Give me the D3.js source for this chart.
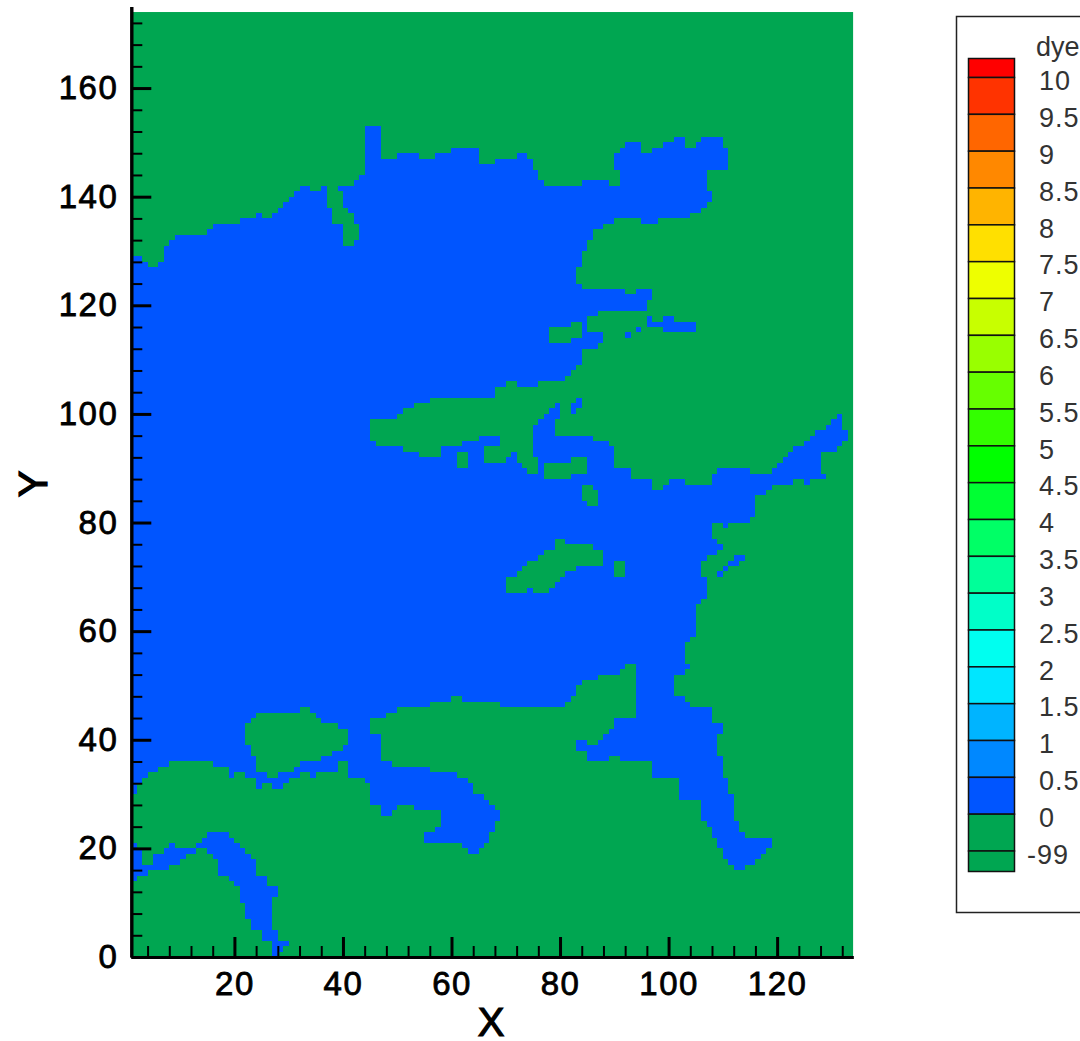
<!DOCTYPE html>
<html>
<head>
<meta charset="utf-8">
<script src="https://cdn.jsdelivr.net/npm/d3@7/dist/d3.min.js"></script>
<style>
    html, body { margin: 0; background: #fff; }
    svg { display: block; }
    text { font-family: "Liberation Sans", Arial, sans-serif; }
</style>
</head>
<body>
<svg id="chart"></svg>
<script>
const xMajor = [20, 40, 60, 80, 100, 120];
const xMinor = [4, 8, 12, 16, 24, 28, 32, 36, 44, 48, 52, 56, 64, 68, 72, 76, 84, 88, 92, 96, 104, 108, 112, 116, 124, 128, 132];
const yMajor = [0, 20, 40, 60, 80, 100, 120, 140, 160];
const yMinor = [4, 8, 12, 16, 24, 28, 32, 36, 44, 48, 52, 56, 64, 68, 72, 76, 84, 88, 92, 96, 104, 108, 112, 116, 124, 128, 132, 136, 144, 148, 152, 156, 164, 168, 172];

const legendLabels = ["10", "9.5", "9", "8.5", "8", "7.5", "7", "6.5", "6", "5.5", "5", "4.5", "4", "3.5", "3", "2.5", "2", "1.5", "1", "0.5", "0", "-99"];
const legendColors = ["#ff0000", "#ff3300", "#ff6600", "#ff8800", "#ffb400", "#ffe000", "#eeff00", "#c8ff00", "#99ff00", "#66ff00", "#33ff00", "#00ff00", "#00ff33", "#00ff66", "#00ff99", "#00ffc8", "#00fff0", "#00e6ff", "#00b4ff", "#0088ff", "#0055ff", "#00a651", "#00a651"];

// dye >= 0 cells: [y, x0, x1, x2, x3, ...], each pair a run along that row. the rest is -99
const dyeRows = [
    [0, 27, 28], [1, 27, 29], [2, 27, 30], [3, 25, 28], [4, 25, 28], [5, 23, 27], [6, 23, 27], [7, 22, 27],
    [8, 22, 27], [9, 22, 27], [10, 21, 27], [11, 21, 28], [12, 21, 28], [13, 20, 26],
    [14, 1, 2, 19, 26], [15, 1, 4, 17, 24], [16, 1, 8, 17, 24, 112, 114],
    [17, 1, 3, 5, 10, 17, 24, 111, 116], [18, 1, 3, 5, 11, 16, 23, 110, 117],
    [19, 1, 3, 7, 13, 15, 22, 63, 65, 110, 118], [20, 1, 2, 8, 9, 13, 21, 62, 66, 109, 119],
    [21, 14, 20, 55, 67, 109, 119], [22, 15, 19, 55, 67, 108, 114], [23, 57, 68, 108, 113], [24, 58, 68, 107, 113],
    [25, 58, 69, 106, 112], [26, 47, 49, 58, 69, 106, 112], [27, 47, 50, 53, 68, 106, 112], [28, 45, 67, 106, 112],
    [29, 45, 66, 102, 112], [30, 1, 2, 45, 64, 102, 111], [31, 1, 2, 24, 25, 27, 29, 45, 64, 102, 111],
    [32, 1, 3, 24, 30, 44, 63, 102, 111], [33, 1, 4, 19, 20, 22, 26, 28, 32, 34, 35, 41, 61, 97, 110],
    [34, 1, 6, 19, 24, 31, 39, 41, 56, 97, 110], [35, 1, 8, 16, 24, 32, 39, 41, 49, 97, 110],
    [36, 1, 24, 36, 47, 85, 89, 91, 110], [37, 1, 23, 38, 47, 85, 109], [38, 1, 23, 40, 47, 83, 109],
    [39, 1, 22, 41, 47, 83, 85, 87, 109], [40, 1, 22, 41, 47, 88, 109], [41, 1, 22, 41, 45, 89, 110],
    [42, 1, 22, 39, 45, 90, 110], [43, 1, 23, 36, 45, 90, 108], [44, 1, 24, 35, 48, 94, 108],
    [45, 1, 32, 34, 50, 94, 108], [46, 1, 56, 69, 81, 94, 104], [47, 1, 60, 62, 82, 94, 103],
    [48, 1, 83, 94, 101], [49, 1, 83, 94, 101], [50, 1, 84, 94, 101], [51, 1, 87, 94, 101],
    [52, 1, 91, 94, 103], [53, 1, 92, 94, 104], [54, 1, 103], [55, 1, 103], [56, 1, 103], [57, 1, 103], [58, 1, 104],
    [59, 1, 105], [60, 1, 105], [61, 1, 105], [62, 1, 105], [63, 1, 105], [64, 1, 105], [65, 1, 106], [66, 1, 107],
    [67, 1, 70, 74, 75, 78, 107], [68, 1, 70, 79, 107], [69, 1, 70, 80, 107],
    [70, 1, 72, 81, 90, 92, 106, 109, 110], [71, 1, 73, 83, 90, 92, 106, 110, 111],
    [72, 1, 74, 88, 90, 92, 106, 111, 113], [73, 1, 76, 88, 107, 112, 114], [74, 1, 77, 88, 109],
    [75, 1, 79, 86, 110], [76, 1, 79, 81, 109], [77, 1, 108], [78, 1, 108], [79, 1, 108, 110, 111], [80, 1, 115],
    [81, 1, 116], [82, 1, 116], [83, 1, 85, 87, 116], [84, 1, 84, 87, 116], [85, 1, 84, 87, 118],
    [86, 1, 84, 86, 97, 99, 119], [87, 1, 97, 100, 103, 108, 123, 125, 126], [88, 1, 77, 82, 93, 108, 129],
    [89, 1, 74, 76, 77, 85, 93, 109, 115, 119, 128], [90, 1, 61, 63, 73, 76, 77, 85, 90, 120, 128],
    [91, 1, 61, 63, 66, 70, 72, 76, 82, 85, 90, 121, 128], [92, 1, 54, 58, 61, 63, 66, 71, 72, 75, 90, 122, 128],
    [93, 1, 51, 58, 66, 75, 90, 123, 131], [94, 1, 46, 62, 69, 75, 89, 125, 132], [95, 1, 45, 65, 69, 75, 86, 126, 133],
    [96, 1, 45, 75, 79, 127, 133], [97, 1, 45, 75, 79, 129, 132], [98, 1, 45, 76, 79, 130, 132],
    [99, 1, 50, 77, 80, 131, 132], [100, 1, 51, 78, 80, 82, 83], [101, 1, 53, 79, 80, 82, 84], [102, 1, 56, 83, 84],
    [103, 1, 68], [104, 1, 68], [105, 1, 70, 72, 76], [106, 1, 81], [107, 1, 82], [108, 1, 83],
    [109, 1, 84], [110, 1, 84], [111, 1, 84], [112, 1, 87], [113, 1, 78, 82, 88], [114, 1, 78, 84, 88, 92, 93],
    [115, 1, 78, 84, 85, 94, 95, 99, 105], [116, 1, 82, 84, 85, 96, 105], [117, 1, 85, 96, 97, 99, 101], [118, 1, 87],
    [119, 1, 96], [120, 1, 96], [121, 1, 97], [122, 1, 92, 94, 97], [123, 1, 84], [124, 1, 83], [125, 1, 83], [126, 1, 83],
    [127, 1, 4, 6, 84], [128, 1, 3, 7, 84], [129, 7, 84], [130, 7, 85], [131, 8, 40, 42, 85], [132, 9, 40, 43, 86],
    [133, 15, 40, 43, 86], [134, 16, 40, 43, 88], [135, 21, 38, 42, 90, 95, 98], [136, 24, 25, 27, 38, 42, 104],
    [137, 28, 38, 41, 106], [138, 29, 37, 40, 107], [139, 30, 37, 40, 108], [140, 31, 37, 40, 108],
    [141, 32, 34, 36, 37, 39, 107], [142, 42, 77, 84, 89, 91, 107], [143, 43, 76, 91, 107], [144, 44, 76, 91, 107],
    [145, 44, 75, 90, 111], [146, 44, 65, 68, 75, 90, 111], [147, 44, 47, 50, 54, 57, 65, 72, 74, 90, 111],
    [148, 44, 47, 60, 65, 91, 95, 97, 111], [149, 44, 47, 92, 95, 99, 103, 105, 110],
    [150, 44, 47, 101, 103, 106, 110], [151, 44, 47], [152, 44, 47]
];

const green = "#00a651";
const blue = "#0055ff";

const width = 1080, height = 1041;

const x = d3.scaleLinear().domain([1, 134]).range([131.3, 853.1]);
const y = d3.scaleLinear().domain([0, 175]).range([957, 6.6]);

const svg = d3.select("#chart").attr("width", width).attr("height", height);

svg.append("rect")
    .attr("x", x(1))
    .attr("y", y(174))
    .attr("width", x(134) - x(1))
    .attr("height", y(0) - y(174))
    .attr("fill", green);

// flatten rows to runs
const runs = [];
dyeRows.forEach(row => {
    for (let i = 1; i < row.length; i += 2) {
        runs.push({ y: row[0], x0: row[i], x1: row[i + 1] });
    }
});

svg.append("g")
    .attr("shape-rendering", "crispEdges")
    .selectAll("rect")
    .data(runs)
    .enter().append("rect")
    .attr("x", d => x(d.x0))
    .attr("y", d => y(d.y + 1))
    .attr("width", d => x(d.x1) - x(d.x0))
    .attr("height", d => y(d.y) - y(d.y + 1))
    .attr("fill", blue);

// axes
const xAxisMinor = svg.append("g").attr("transform", `translate(0,${y(0)})`)
    .call(d3.axisBottom(x).tickValues(xMinor).tickSizeInner(-11).tickSizeOuter(0).tickFormat(""));
const yAxisMinor = svg.append("g").attr("transform", `translate(${x(1)},0)`)
    .call(d3.axisLeft(y).tickValues(yMinor).tickSizeInner(-11).tickSizeOuter(0).tickFormat(""));
xAxisMinor.selectAll("line").attr("stroke-width", 2);
yAxisMinor.selectAll("line").attr("stroke-width", 2);

const xAxis = svg.append("g").attr("transform", `translate(0,${y(0)})`)
    .call(d3.axisBottom(x).tickValues(xMajor).tickSizeInner(-20).tickSizeOuter(0).tickPadding(15));
const yAxis = svg.append("g").attr("transform", `translate(${x(1)},0)`)
    .call(d3.axisLeft(y).tickValues(yMajor).tickSizeInner(-20).tickSizeOuter(0).tickPadding(13));

svg.selectAll("g .domain").attr("stroke-width", 3).attr("stroke", "#000");
xAxis.selectAll("line").attr("stroke-width", 3);
yAxis.selectAll("line").attr("stroke-width", 3);
[xAxis, yAxis].forEach(a => a.selectAll("text")
    .attr("fill", "#000")
    .attr("stroke", "#000")
    .attr("stroke-width", 0.8)
    .style("font-family", '"Liberation Sans", Arial, sans-serif')
    .style("font-size", "33px")
    .style("letter-spacing", "1.5px"));

svg.append("text")
    .attr("x", 491)
    .attr("y", 1036)
    .attr("text-anchor", "middle")
    .attr("stroke", "#000")
    .attr("stroke-width", 1.2)
    .style("font-size", "40px")
    .text("X");

svg.append("text")
    .attr("transform", "translate(47,484) rotate(-90)")
    .attr("text-anchor", "middle")
    .attr("stroke", "#000")
    .attr("stroke-width", 1.2)
    .style("font-size", "40px")
    .text("Y");

// legend
svg.append("rect")
    .attr("x", 956.5)
    .attr("y", 16.5)
    .attr("width", 140)
    .attr("height", 896)
    .attr("fill", "#fff")
    .attr("stroke", "#222")
    .attr("stroke-width", 1.5);

svg.append("text")
    .attr("x", 1036)
    .attr("y", 56)
    .attr("fill", "#333")
    .style("font-size", "27px")
    .text("dye");

const legendY = d3.scaleLinear().domain([0, 21]).range([77.5, 851]);

const legendTop = 58.5, legendBottom = 871.5;
svg.append("g")
    .selectAll("rect")
    .data(legendColors)
    .enter().append("rect")
    .attr("x", 968.5)
    .attr("y", (d, i) => i === 0 ? legendTop : legendY(i - 1))
    .attr("width", 46)
    .attr("height", (d, i) => i === 0 ? legendY(0) - legendTop : i === 22 ? legendBottom - legendY(21) : legendY(i) - legendY(i - 1))
    .attr("fill", d => d)
    .attr("stroke", "#111")
    .attr("stroke-width", 1.5);

svg.append("g")
    .selectAll("text")
    .data(legendLabels)
    .enter().append("text")
    .attr("x", d => d === "-99" ? 1027 : 1039)
    .attr("y", (d, i) => legendY(i) + 3)
    .attr("dy", "0.36em")
    .attr("fill", "#333")
    .style("font-size", "27px")
    .style("letter-spacing", "1px")
    .text(d => d);
</script>
</body>
</html>
